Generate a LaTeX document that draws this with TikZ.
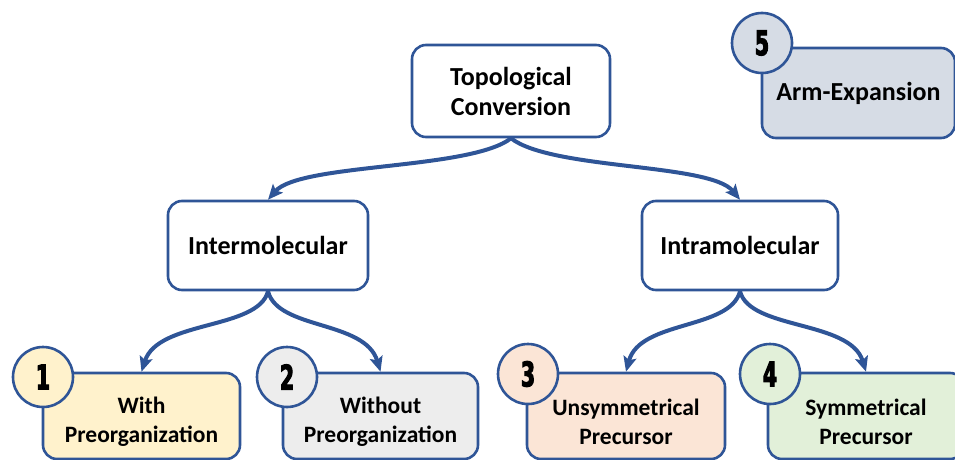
\documentclass[tikz,border=0pt]{standalone}
\usepackage{fontspec}
\setmainfont{Carlito}
\newfontfamily\numfont[FakeStretch=0.6,FakeBold=3]{DejaVu Sans Bold}
\usetikzlibrary{arrows.meta}
\definecolor{bord}{HTML}{2F5597}
\definecolor{fillA}{HTML}{FFF2CC}
\definecolor{fillB}{HTML}{EDEDED}
\definecolor{fillC}{HTML}{FBE5D6}
\definecolor{fillD}{HTML}{E2F0D9}
\definecolor{fillE}{HTML}{D6DCE5}
\newcommand\lowstrut{\rule{0pt}{28pt}}
\begin{document}
\begin{tikzpicture}[x=1pt,y=-1pt,
  box/.style={draw=bord, line width=2.6pt, rounded corners=14pt, fill=white, align=center,
    inner sep=0pt, font=\bfseries\fontsize{26}{30}\selectfont},
  sbox/.style={box, font=\bfseries\fontsize{23.5}{29}\selectfont},
  num/.style={circle, draw=bord, line width=2.6pt, minimum size=60pt, inner sep=0pt,
    font=\numfont\fontsize{34}{34}\selectfont},
  conn/.style={draw=bord, line width=4pt, -{Stealth[length=15pt,width=13pt,inset=3pt]}}]
\useasboundingbox (0,0) rectangle (955,460);
\clip (0,0) rectangle (955,460);
% boxes
\node[box, minimum width=198pt, minimum height=92pt] (top) at (511,91) {Topological\\Conversion};
\node[box, fill=fillE, minimum width=193pt, minimum height=90pt] (arm) at (858.5,93) {Arm-Expansion};
\node[box, minimum width=200pt, minimum height=89pt] (inter) at (268,245.5) {Intermolecular};
\node[box, minimum width=196pt, minimum height=89pt] (intra) at (740,245.5) {Intramolecular};
\node[sbox, fill=fillA, minimum width=197pt, minimum height=86pt] (b1) at (141.5,416) {\lowstrut With\\Preorganization};
\node[sbox, fill=fillB, minimum width=195pt, minimum height=86pt] (b2) at (380.5,416) {\lowstrut Without\\Preorganization};
\node[sbox, fill=fillC, minimum width=198pt, minimum height=86pt] (b3) at (626,416) {\lowstrut Unsymmetrical\\Precursor};
\node[sbox, fill=fillD, minimum width=196pt, minimum height=86pt] (b4) at (866,416) {\lowstrut Symmetrical\\Precursor};
% connectors
\draw[conn] (top.south) .. controls (470,170) and (300,163) .. (inter.north);
\draw[conn] (top.south) .. controls (552,170) and (710,163) .. (intra.north);
\draw[conn] (inter.south) .. controls (258,330) and (158,320) .. (b1.north);
\draw[conn] (inter.south) .. controls (278,330) and (365,320) .. (b2.north);
\draw[conn] (intra.south) .. controls (730,330) and (640,320) .. (b3.north);
\draw[conn] (intra.south) .. controls (750,330) and (850,320) .. (b4.north);
% number circles
\node[num, fill=fillA] (n1) at (43,377) {1};
\node[num, fill=fillB] (n2) at (287,377) {2};
\node[num, fill=fillC] (n3) at (528,374) {3};
\node[num, fill=fillD] (n4) at (770,374) {4};
\node[num, fill=fillE] (n5) at (762,43) {5};
\end{tikzpicture}
\end{document}
